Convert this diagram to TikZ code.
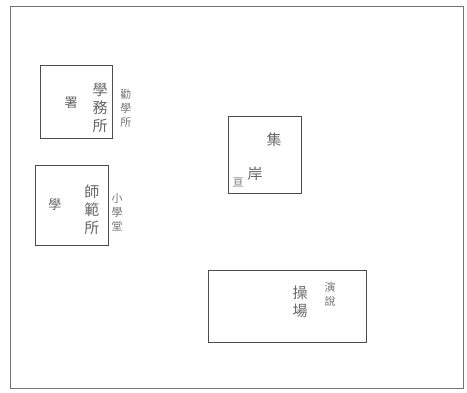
\documentclass[tikz,border=0pt]{standalone}
\usepackage{fontspec}
\newfontfamily\cjk{Noto Sans CJK TC}
\usetikzlibrary{positioning}

\begin{document}
\begin{tikzpicture}[
  x=1pt, y=-1pt,
  room/.style={draw=black!70, line width=0.7pt, inner sep=0pt},
  big/.style={font=\cjk\fontsize{13}{14}\selectfont, text=black!60, inner sep=0pt},
  col/.style={font=\cjk\fontsize{15}{18}\selectfont, text=black!60, align=center, inner sep=0pt},
  note/.style={font=\cjk\fontsize{11}{14}\selectfont, text=black!55, align=center, inner sep=0pt}
]
\useasboundingbox (0,0) rectangle (467,392);
%% FRAME
\draw[black!55, line width=0.8pt] (10,6) rectangle (463,388);
%% ROOMS
\node[room, minimum width=72pt, minimum height=73pt] (r1) at (76,101.5) {};
\node[room, minimum width=73pt, minimum height=80pt] (r2) at (71.5,205) {};
\node[room, minimum width=73pt, minimum height=77pt] (r3) at (264.5,154.5) {};
\node[room, minimum width=158pt, minimum height=72pt] (r4) at (287,306) {};
%% LABELS
\node[big] (t1) at (71,103) {署};
\node[col] (c1) at (100,108) {學\\務\\所};
\node[note] (n1) at (126,108) {勸\\學\\所};
\node[big] (t2) at (55,205) {學};
\node[col] (c2) at (92,210) {師\\範\\所};
\node[note] (n2) at (117,212) {小\\學\\堂};
\node[col] (t3) at (274,140) {集};
\node[col] (t4) at (255,174) {岸};
\node[note] (n3) at (238,182) {亘};
\node[col] (c4) at (300,302) {操\\場};
\node[note] (n4) at (330,294) {演\\說};
\end{tikzpicture}
\end{document}
